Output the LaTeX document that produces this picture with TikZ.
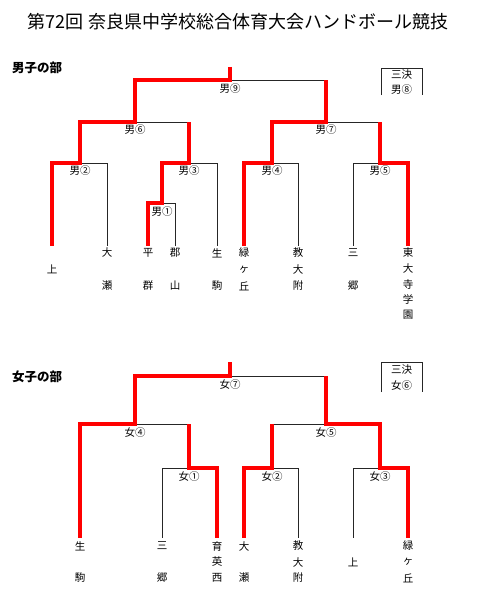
\documentclass[tikz,border=0pt]{standalone}
\usepackage{fontspec}
\setmainfont{Noto Sans CJK JP}
\newfontfamily\jp{Noto Sans CJK JP}
\begin{document}
\begin{tikzpicture}[x=1pt,y=-1pt,
  win/.style={draw=red,line width=3.2pt,line join=miter},
  lose/.style={draw=black!85,line width=0.9pt},
  lbl/.style={font=\jp\fontsize{10.5}{12}\selectfont,inner sep=0pt},
  team/.style={font=\jp\fontsize{10.5}{12}\selectfont,inner sep=0pt},
  head/.style={font=\jp\bfseries\fontsize{12.5}{14}\selectfont,inner sep=0pt,anchor=west},
  ttl/.style={font=\jp\fontsize{18}{20}\selectfont,inner sep=0pt}]
\useasboundingbox (0,0) rectangle (480,602);
\fill[white] (0,0) rectangle (480,602);
\node[ttl] (title) at (238,22) {第72回 奈良県中学校総合体育大会ハンドボール競技};
% ===== Men =====
\node[head] (mhead) at (12,68) {男子の部};
% black lines
\draw[lose] (230,80)--(326,80);
\draw[lose] (135,122)--(189,122);
\draw[lose] (326,122)--(380,122);
\draw[lose] (80,163)--(107,163)--(107,246);
\draw[lose] (189,163)--(217,163)--(217,246);
\draw[lose] (162,203)--(175,203)--(175,246);
\draw[lose] (272,163)--(298,163)--(298,246);
\draw[lose] (380,163)--(353,163)--(353,246);
\draw[lose] (381,95)--(381,68)--(422,68)--(422,95);
% red lines
\draw[win] (230,67)--(230,80)--(135,80)--(135,122)--(80,122)--(80,163)--(52,163)--(52,246);
\draw[win] (326,80)--(326,122)--(272,122)--(272,163)--(244,163)--(244,246);
\draw[win] (189,122)--(189,163)--(162,163)--(162,203)--(148,203)--(148,246);
\draw[win] (380,122)--(380,163)--(408,163)--(408,246);
% labels
\node[lbl] (m9) at (230,89) {男⑨};
\node[lbl] (m6) at (135,130) {男⑥};
\node[lbl] (m7) at (326,130) {男⑦};
\node[lbl] (m2) at (80,171) {男②};
\node[lbl] (m3) at (189,171) {男③};
\node[lbl] (m4) at (272,171) {男④};
\node[lbl] (m5) at (380,171) {男⑤};
\node[lbl] (m1) at (162,212) {男①};
\node[lbl] (m8a) at (401.5,74.5) {三決};
\node[lbl] (m8b) at (401.5,89.5) {男⑧};
% teams
\node[team] (t1) at (52,269) {上};
\node[team] (t2a) at (107,253) {大};
\node[team] (t2b) at (107,286) {瀬};
\node[team] (t3a) at (148,253) {平};
\node[team] (t3b) at (148,286) {群};
\node[team] (t4a) at (175,253) {郡};
\node[team] (t4b) at (175,286) {山};
\node[team] (t5a) at (217,253) {生};
\node[team] (t5b) at (217,286) {駒};
\node[team] (t6a) at (244,253) {緑};
\node[team] (t6b) at (244,269.5) {ヶ};
\node[team] (t6c) at (244,286) {丘};
\node[team] (t7a) at (298,253) {教};
\node[team] (t7b) at (298,269.5) {大};
\node[team] (t7c) at (298,286) {附};
\node[team] (t8a) at (353,253) {三};
\node[team] (t8b) at (353,286) {郷};
\node[team] (t9a) at (408,253) {東};
\node[team] (t9b) at (408,268.5) {大};
\node[team] (t9c) at (408,284.5) {寺};
\node[team] (t9d) at (408,299.5) {学};
\node[team] (t9e) at (408,315) {園};
% ===== Women =====
\node[head] (whead) at (12,377) {女子の部};
\draw[lose] (230,376)--(326,376);
\draw[lose] (135,424)--(189,424);
\draw[lose] (272,424)--(326,424);
\draw[lose] (189,468)--(162,468)--(162,538);
\draw[lose] (272,468)--(298,468)--(298,538);
\draw[lose] (380,468)--(353,468)--(353,538);
\draw[lose] (381,392)--(381,362)--(422,362)--(422,392);
\draw[win] (230,362)--(230,376)--(135,376)--(135,424)--(80,424)--(80,538);
\draw[win] (189,424)--(189,468)--(217,468)--(217,538);
\draw[win] (326,376)--(326,424)--(380,424)--(380,468)--(408,468)--(408,538);
\draw[win] (272,424)--(272,468)--(244,468)--(244,538);
\node[lbl] (w7) at (230,385) {女⑦};
\node[lbl] (w4) at (135,433) {女④};
\node[lbl] (w5) at (326,433) {女⑤};
\node[lbl] (w1) at (189,477) {女①};
\node[lbl] (w2) at (272,477) {女②};
\node[lbl] (w3) at (380,477) {女③};
\node[lbl] (w6a) at (401.5,370) {三決};
\node[lbl] (w6b) at (401.5,386) {女⑥};
\node[team] (u1a) at (80,546) {生};
\node[team] (u1b) at (80,578) {駒};
\node[team] (u2a) at (162,546) {三};
\node[team] (u2b) at (162,578) {郷};
\node[team] (u3a) at (217,546) {育};
\node[team] (u3b) at (217,562) {英};
\node[team] (u3c) at (217,578) {西};
\node[team] (u4a) at (244,546) {大};
\node[team] (u4b) at (244,578) {瀬};
\node[team] (u5a) at (298,546) {教};
\node[team] (u5b) at (298,562) {大};
\node[team] (u5c) at (298,578) {附};
\node[team] (u6) at (353,562) {上};
\node[team] (u7a) at (408,546) {緑};
\node[team] (u7b) at (408,562) {ヶ};
\node[team] (u7c) at (408,578) {丘};
\end{tikzpicture}
\end{document}
